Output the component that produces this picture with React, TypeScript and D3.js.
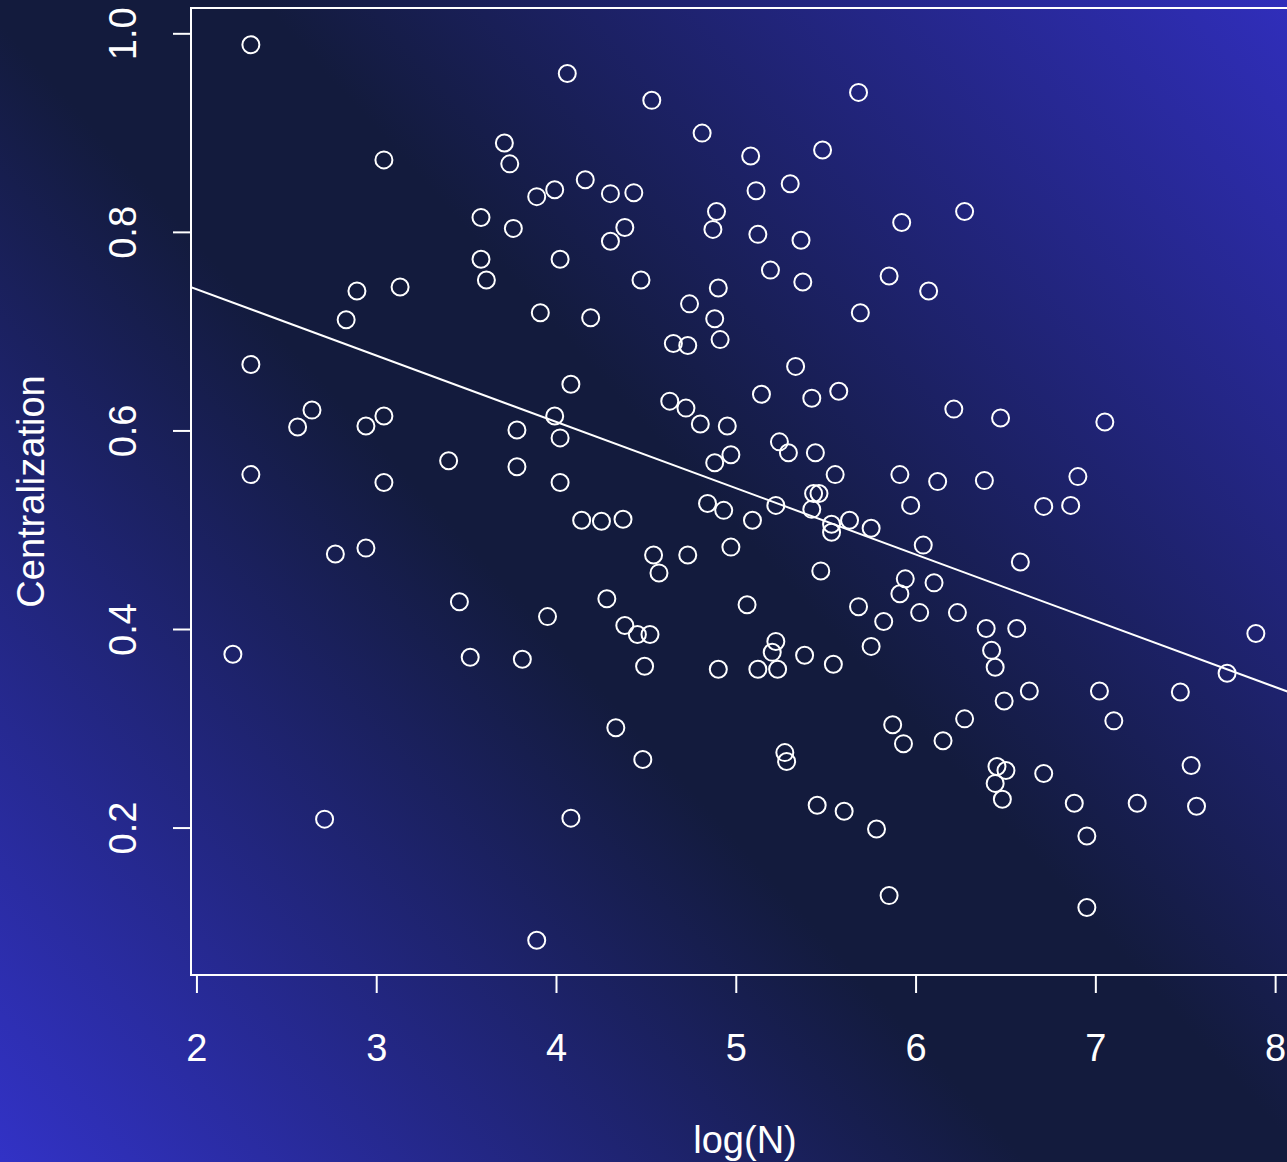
import React from 'react';
import * as d3 from 'd3';

const W = 1287;
const H = 1162;

// log of network size, one entry per network
const logN = [
  2.30, 4.06, 4.53, 5.68, 3.71, 3.74, 3.04, 4.81, 5.48, 5.08,
  4.16, 5.30, 3.89, 3.99, 4.30, 4.43, 5.11, 4.89, 3.58, 3.76,
  4.38, 4.30, 4.87, 5.12, 5.36, 5.92, 6.27, 3.58, 3.61, 4.02,
  4.47, 5.19, 5.37, 5.85, 2.89, 3.13, 6.07, 2.83, 3.91, 4.19,
  4.74, 4.90, 4.88, 5.69, 4.65, 4.73, 4.91, 2.30, 5.33, 4.08,
  5.14, 5.42, 5.57, 4.63, 4.72, 2.56, 2.64, 2.94, 3.04, 3.99,
  3.78, 4.02, 4.80, 4.95, 6.21, 6.47, 7.05, 5.24, 5.29, 5.44,
  4.97, 4.88, 3.40, 3.78, 2.30, 3.04, 4.02, 5.55, 5.91, 6.90,
  5.43, 5.46, 4.84, 4.93, 5.22, 5.42, 5.97, 6.12, 6.38, 6.71,
  6.86, 4.14, 4.25, 4.37, 5.09, 5.53, 5.53, 5.63, 5.75, 2.77,
  2.94, 4.54, 4.73, 4.97, 4.57, 5.47, 6.04, 6.58, 5.94, 6.10,
  5.91, 3.46, 3.95, 4.28, 5.06, 5.68, 6.02, 6.23, 5.82, 2.20,
  3.52, 3.81, 4.38, 4.45, 4.52, 5.22, 5.20, 5.38, 5.75, 6.39,
  6.56, 6.42, 4.49, 4.90, 5.12, 5.23, 5.54, 6.44, 7.73, 7.89,
  6.63, 6.49, 7.02, 7.47, 6.27, 7.10, 5.87, 5.93, 6.15, 4.33,
  5.27, 5.28, 4.48, 6.45, 6.50, 6.44, 6.48, 6.71, 7.53, 2.71,
  4.08, 5.45, 5.60, 5.78, 6.88, 7.23, 7.56, 6.95, 5.85, 6.95,
  3.89,
];

// centralization, same order as logN
const centralization = [
  0.989, 0.960, 0.933, 0.941, 0.890, 0.869, 0.873, 0.900, 0.883, 0.877,
  0.853, 0.849, 0.836, 0.843, 0.839, 0.840, 0.842, 0.821, 0.815, 0.804,
  0.805, 0.791, 0.803, 0.798, 0.792, 0.810, 0.821, 0.773, 0.752, 0.773,
  0.752, 0.762, 0.750, 0.756, 0.741, 0.745, 0.741, 0.712, 0.719, 0.714,
  0.728, 0.744, 0.713, 0.719, 0.688, 0.686, 0.692, 0.667, 0.665, 0.647,
  0.637, 0.633, 0.640, 0.630, 0.623, 0.604, 0.621, 0.605, 0.615, 0.615,
  0.601, 0.593, 0.607, 0.605, 0.622, 0.613, 0.609, 0.589, 0.578, 0.578,
  0.576, 0.568, 0.570, 0.564, 0.556, 0.548, 0.548, 0.556, 0.556, 0.554,
  0.537, 0.537, 0.527, 0.520, 0.525, 0.521, 0.525, 0.549, 0.550, 0.524,
  0.525, 0.510, 0.509, 0.511, 0.510, 0.506, 0.498, 0.510, 0.502, 0.476,
  0.482, 0.475, 0.475, 0.483, 0.457, 0.459, 0.485, 0.468, 0.451, 0.447,
  0.436, 0.428, 0.413, 0.431, 0.425, 0.423, 0.417, 0.417, 0.408, 0.375,
  0.372, 0.370, 0.404, 0.395, 0.395, 0.388, 0.377, 0.374, 0.383, 0.401,
  0.401, 0.379, 0.363, 0.360, 0.360, 0.360, 0.365, 0.362, 0.356, 0.396,
  0.338, 0.328, 0.338, 0.337, 0.310, 0.308, 0.304, 0.285, 0.288, 0.301,
  0.276, 0.267, 0.269, 0.262, 0.258, 0.245, 0.229, 0.255, 0.263, 0.209,
  0.210, 0.223, 0.217, 0.199, 0.225, 0.225, 0.222, 0.192, 0.132, 0.120,
  0.087,
];

const xTicks = [2, 3, 4, 5, 6, 7, 8];
const yTicks = [0.2, 0.4, 0.6, 0.8, 1.0];

// plot box (the right edge runs past the picture, like the original crop)
const box = { left: 191, top: 8, right: 1299, bottom: 975 };
const xDomain = [1.967, 8.13];
const yDomain = [0.052, 1.026];

const font = '"Liberation Sans", Arial, Helvetica, sans-serif';
const fs = 38;
const tickLen = 18;

export default function App() {
  const x = d3.scaleLinear().domain(xDomain).range([box.left, box.right]);
  const y = d3.scaleLinear().domain(yDomain).range([box.bottom, box.top]);

  const pts = logN.map((v, i) => ({ x: v, y: centralization[i] }));

  // least squares fit, like abline(lm(...))
  const mx = d3.mean(logN) as number;
  const my = d3.mean(centralization) as number;
  const sxy = d3.sum(pts, (p) => (p.x - mx) * (p.y - my));
  const sxx = d3.sum(pts, (p) => (p.x - mx) * (p.x - mx));
  const slope = sxy / sxx;
  const icpt = my - slope * mx;
  const fitLine = d3
    .line<number>()
    .x((d) => x(d))
    .y((d) => y(icpt + slope * d))(xDomain);

  const fmtY = d3.format('.1f');

  return (
    <svg
      width={W}
      height={H}
      style={{ position: 'absolute', left: 0, top: 0, display: 'block' }}
      fontFamily={font}
    >
      <defs>
        <linearGradient id="bg" gradientUnits="userSpaceOnUse" x1={0} y1={H} x2={W} y2={0}>
          <stop offset="0" stopColor="#3232c6" />
          <stop offset="0.44" stopColor="#131b3d" />
          <stop offset="0.56" stopColor="#131b3d" />
          <stop offset="1" stopColor="#302ebb" />
        </linearGradient>
        <clipPath id="plotClip">
          <rect x={box.left} y={box.top} width={box.right - box.left} height={box.bottom - box.top} />
        </clipPath>
      </defs>
      <rect x={0} y={0} width={W} height={H} fill="url(#bg)" />

      {/* regression line */}
      <path d={fitLine || ''} fill="none" stroke="#fff" strokeWidth={2} clipPath="url(#plotClip)" />

      {/* points */}
      <g fill="none" stroke="#fff" strokeWidth={2}>
        {pts.map((p, i) => (
          <circle key={i} cx={x(p.x)} cy={y(p.y)} r={8.5} />
        ))}
      </g>

      {/* box */}
      <rect
        x={box.left}
        y={box.top}
        width={box.right - box.left}
        height={box.bottom - box.top}
        fill="none"
        stroke="#fff"
        strokeWidth={2}
      />

      {/* x axis */}
      <g stroke="#fff" strokeWidth={2}>
        <line x1={x(xTicks[0])} x2={x(xTicks[xTicks.length - 1])} y1={box.bottom} y2={box.bottom} />
        {xTicks.map((t) => (
          <line key={t} x1={x(t)} x2={x(t)} y1={box.bottom} y2={box.bottom + tickLen} />
        ))}
      </g>
      <g fill="#fff" fontSize={fs} textAnchor="middle">
        {xTicks.map((t) => (
          <text key={t} x={x(t)} y={1061}>
            {t}
          </text>
        ))}
      </g>

      {/* y axis */}
      <g stroke="#fff" strokeWidth={2}>
        <line x1={box.left} x2={box.left} y1={y(yTicks[0])} y2={y(yTicks[yTicks.length - 1])} />
        {yTicks.map((t) => (
          <line key={t} x1={box.left - tickLen} x2={box.left} y1={y(t)} y2={y(t)} />
        ))}
      </g>
      <g fill="#fff" fontSize={fs} textAnchor="middle">
        {yTicks.map((t) => (
          <text key={t} transform={`translate(136,${y(t)}) rotate(-90)`}>
            {fmtY(t)}
          </text>
        ))}
      </g>

      {/* axis titles */}
      <text x={(box.left + box.right) / 2} y={1153} fill="#fff" fontSize={fs} textAnchor="middle">
        log(N)
      </text>
      <text
        transform={`translate(44,${(box.top + box.bottom) / 2}) rotate(-90)`}
        fill="#fff"
        fontSize={fs}
        textAnchor="middle"
      >
        Centralization
      </text>
    </svg>
  );
}
